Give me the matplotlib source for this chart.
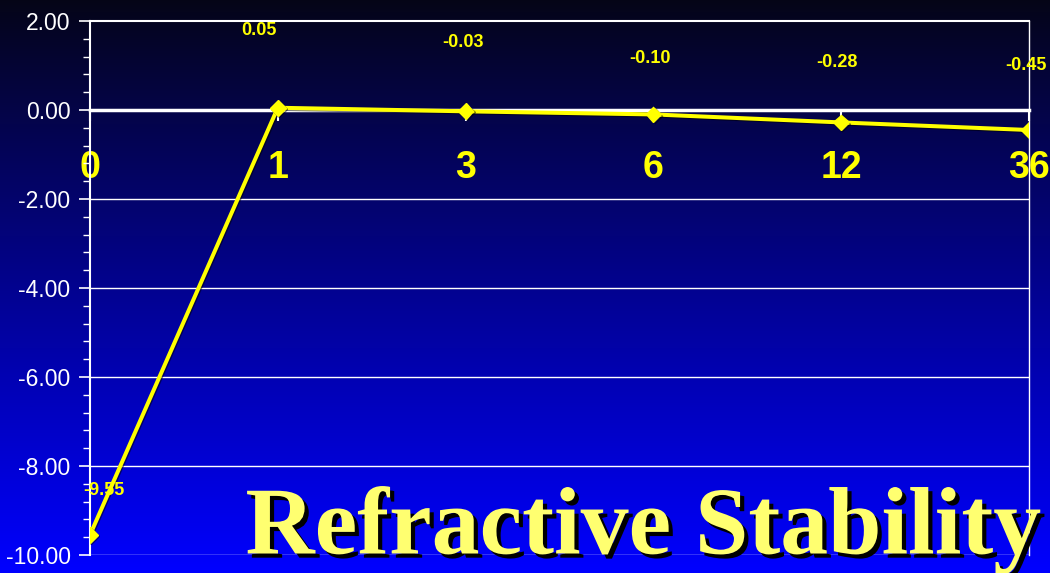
import numpy as np
import matplotlib
matplotlib.use('Agg')
import matplotlib.pyplot as plt
import matplotlib.ticker as ticker
import matplotlib.patheffects as pe

# Datos: cambio refractivo medio por visita (meses)
meses = ['0', '1', '3', '6', '12', '36']
cambio = [-9.55, 0.05, -0.03, -0.10, -0.28, -0.45]

# Desplazamiento de cada etiqueta de valor (pixeles)
offsets = [(14, 44), (-19, 77), (-3, 69), (-3, 56), (-4, 60), (-3, 65)]

amarillo = '#ffff00'
sans = ['Liberation Sans', 'DejaVu Sans']

fig = plt.figure(figsize=(10.5, 5.73), dpi=100)

# Fondo degradado negro -> azul
fondo = fig.add_axes([0, 0, 1, 1], zorder=0)
t = np.linspace(0, 1, 256)[:, None]
grad = np.zeros((256, 2, 3))
grad[:, :, 0] = 0.02 * (1 - t)
grad[:, :, 1] = 0.02 * (1 - t)
grad[:, :, 2] = 0.09 + 0.91 * t**0.95
fondo.imshow(grad, aspect='auto', extent=[0, 1, 1, 0])
fondo.set_axis_off()

ax = fig.add_axes([0.0857, 0.0314, 0.8943, 0.932], zorder=1)
ax.set_facecolor('none')

x = np.arange(len(meses))
ax.plot(x, cambio, color=amarillo, lw=2.9, marker='D', ms=8, zorder=5,
        path_effects=[pe.SimpleLineShadow(offset=(0.8, -0.8), alpha=0.5), pe.Normal()])

for xi, v, off in zip(x, cambio, offsets):
    ax.annotate(f'{v:.2f}', (xi, v), xytext=off, textcoords='offset pixels',
                ha='center', va='center', color=amarillo, fontsize=13,
                fontweight='bold', family=sans, zorder=6)

ax.set_xlim(0, len(meses) - 1)
ax.set_ylim(-10, 2)

# Grilla horizontal y ejes
for yv in [-2, -4, -6, -8, -10]:
    ax.axhline(yv, color='white', lw=1, zorder=1)
ax.spines['bottom'].set_position(('data', 0))
ax.spines['bottom'].set_linewidth(2.5)
for s in ['bottom', 'top', 'left', 'right']:
    ax.spines[s].set_color('white')
ax.spines['left'].set_linewidth(1.5)
ax.spines['top'].set_linewidth(1.5)
ax.spines['right'].set_linewidth(1)

ax.set_xticks(x)
ax.set_xticklabels(meses)
ax.tick_params(axis='x', direction='out', length=8, width=1.5, color='white',
               pad=21, labelcolor=amarillo, labelsize=27)
for lbl in ax.get_xticklabels():
    lbl.set_fontweight('bold')
    lbl.set_family(sans)

ax.yaxis.set_major_locator(ticker.MultipleLocator(2))
ax.yaxis.set_minor_locator(ticker.MultipleLocator(0.4))
ax.yaxis.set_major_formatter(ticker.FormatStrFormatter('%.2f'))
ax.tick_params(axis='y', which='major', direction='out', length=8, width=1.2,
               color='white', labelcolor='white', labelsize=16.5, pad=6)
ax.tick_params(axis='y', which='minor', direction='out', length=5, width=1,
               color='white')
for lbl in ax.get_yticklabels():
    lbl.set_family(sans)

# Titulo sobre el grafico
fig.text(0.613, 0.034, 'Refractive Stability', ha='center', va='baseline',
         color='#ffff70', fontsize=69, fontweight='bold',
         family=['Liberation Serif', 'DejaVu Serif'], zorder=10,
         path_effects=[pe.withSimplePatchShadow(offset=(3, -3), shadow_rgbFace='black', alpha=1)])

fig.savefig('out.png', dpi=100)
